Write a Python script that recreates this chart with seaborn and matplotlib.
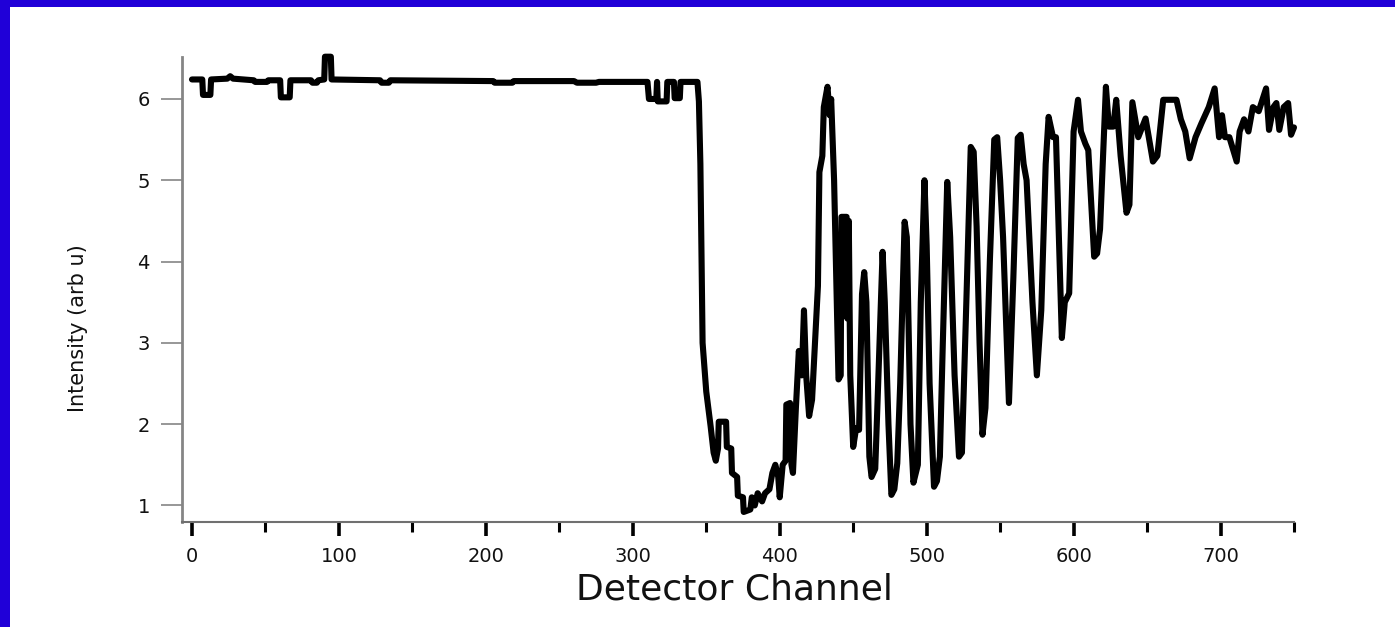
import matplotlib
matplotlib.use("Agg")
import matplotlib.pyplot as plt
import seaborn as sns
from matplotlib.patches import Rectangle
from matplotlib.ticker import FixedLocator

# ---- data ----
channel = [
    0, 7, 7.5, 12.5, 13, 24, 26, 28, 42, 43, 51, 52, 60, 60.5, 66.5, 67, 81, 82, 85, 86,
    90, 90.5, 94.5, 95, 128, 129, 134, 135, 205, 206, 218, 219, 260, 262, 275, 277,
    310, 311, 316, 316.5, 317, 323, 323.5, 328, 328.5, 332, 332.5, 344, 345, 346,
    347.5, 350, 353, 355, 356.5, 358, 358.5, 363.5, 364, 367, 367.5, 371, 371.5, 375,
    375.5, 380, 381, 383, 385, 388, 390, 393, 395, 397, 399, 400, 402, 404, 404.5, 407,
    408, 409, 411, 413, 415, 416.5, 418, 420, 422, 424, 426, 427, 429, 430, 432.5, 434,
    435, 437, 440, 441.5, 442, 445.5, 446, 447, 448, 450, 452, 454, 456, 457.5, 459,
    461, 462.5, 465, 467, 470, 471.5, 474, 476, 478, 480, 482, 485, 486.5, 489, 491,
    494, 496, 498.5, 500, 502, 505, 507, 509, 511, 514, 516, 519, 522, 524, 527, 530,
    532, 534, 536, 538, 540, 543, 546, 548, 550, 552, 556, 559, 562, 564, 566, 568,
    572, 575, 578, 581, 583, 586, 588, 592, 594, 597, 600, 603, 605, 608, 610, 614,
    616, 618, 622, 624, 627, 629, 632, 636, 638, 640, 644, 649, 654, 657, 661, 670,
    673, 676, 679, 683, 687, 692, 696, 699, 701, 703, 706, 711, 713, 716, 719, 722,
    726, 731, 733, 736, 738, 740, 743, 746, 748, 750,
]
intensity = [
    6.24, 6.24, 6.05, 6.05, 6.24, 6.25, 6.28, 6.25, 6.23, 6.21, 6.21, 6.23, 6.23, 6.02,
    6.02, 6.23, 6.23, 6.20, 6.20, 6.23, 6.24, 6.52, 6.52, 6.24, 6.23, 6.20, 6.20, 6.23,
    6.22, 6.20, 6.20, 6.22, 6.22, 6.20, 6.20, 6.21, 6.21, 6.00, 6.00, 6.21, 5.97, 5.97,
    6.21, 6.21, 6.01, 6.01, 6.21, 6.21, 5.97, 5.20, 3.00, 2.40, 1.97, 1.65, 1.55, 1.70,
    2.03, 2.03, 1.72, 1.70, 1.40, 1.35, 1.12, 1.10, 0.92, 0.95, 1.10, 1.00, 1.15, 1.05,
    1.15, 1.20, 1.40, 1.50, 1.35, 1.10, 1.50, 1.55, 2.24, 2.26, 1.50, 1.40, 2.20, 2.90,
    2.60, 3.40, 2.60, 2.10, 2.30, 3.00, 3.70, 5.10, 5.30, 5.90, 6.15, 5.80, 6.00, 5.00,
    2.55, 2.60, 4.55, 4.55, 3.30, 4.50, 2.60, 1.72, 1.95, 1.93, 3.60, 3.87, 3.50, 1.60,
    1.35, 1.45, 2.50, 4.12, 3.50, 2.00, 1.13, 1.20, 1.52, 2.50, 4.49, 4.30, 2.00, 1.28,
    1.50, 3.50, 5.00, 4.20, 2.50, 1.23, 1.30, 1.60, 3.00, 4.98, 4.30, 2.60, 1.60, 1.65,
    3.50, 5.41, 5.35, 4.43, 3.00, 1.87, 2.20, 4.00, 5.50, 5.53, 5.00, 4.30, 2.26, 3.80,
    5.52, 5.56, 5.20, 5.00, 3.50, 2.60, 3.40, 5.20, 5.78, 5.53, 5.53, 3.06, 3.50, 3.61,
    5.60, 5.99, 5.60, 5.45, 5.37, 4.06, 4.10, 4.40, 6.15, 5.66, 5.66, 5.99, 5.30, 4.60,
    4.70, 5.96, 5.53, 5.76, 5.23, 5.30, 5.99, 5.99, 5.75, 5.60, 5.27, 5.53, 5.70, 5.90,
    6.13, 5.53, 5.80, 5.53, 5.53, 5.23, 5.60, 5.75, 5.60, 5.90, 5.85, 6.13, 5.62, 5.90,
    5.95, 5.62, 5.90, 5.95, 5.56, 5.65,
]
x_major_ticks = [0, 100, 200, 300, 400, 500, 600, 700]
x_minor_ticks = [50, 150, 250, 350, 450, 550, 650, 750]
y_ticks = [1, 2, 3, 4, 5, 6]
x_label = "Detector Channel"
y_label = "Intensity (arb u)"

sns.set_theme(style="white")
plt.rcParams['font.family'] = ['DejaVu Sans']

W, H = 1395, 627
fig = plt.figure(figsize=(W / 100, H / 100), dpi=100)
fig.patch.set_facecolor("white")

# axes box in pixels: left 181.7, right 1294, top 56.7, bottom 521.7
ax = fig.add_axes([181.7 / W, (H - 521.7) / H, (1294 - 181.7) / W, (521.7 - 56.7) / H])
ax.set_facecolor("white")

sns.lineplot(x=channel, y=intensity, estimator=None, sort=False, color="black",
             linewidth=4.4, ax=ax)
for ln in ax.lines:
    ln.set_clip_on(False)
    ln.set_solid_joinstyle("round")

ax.set_xlim(-7, 750)
ax.set_ylim(0.80, 6.52)

for s in ("top", "right"):
    ax.spines[s].set_visible(False)
ax.spines["left"].set_color("#858585")
ax.spines["left"].set_linewidth(2.0)
ax.spines["bottom"].set_color("#707070")
ax.spines["bottom"].set_linewidth(1.5)

ax.xaxis.set_major_locator(FixedLocator(x_major_ticks))
ax.xaxis.set_minor_locator(FixedLocator(x_minor_ticks))
ax.yaxis.set_major_locator(FixedLocator(y_ticks))
ax.set_xticklabels([str(v) for v in x_major_ticks])
ax.set_yticklabels([str(v) for v in y_ticks])

ax.tick_params(axis="x", which="major", direction="out", bottom=True, length=10, width=2.6,
               color="black", pad=8, labelsize=14, labelcolor="#111111")
ax.tick_params(axis="x", which="minor", direction="out", bottom=True, length=7, width=2.2,
               color="black")
ax.tick_params(axis="y", which="major", direction="out", left=True, length=15, width=1.2,
               color="#858585", pad=8, labelsize=14, labelcolor="#111111")

ax.set_xlabel(x_label, fontsize=26, color="#111111")
ax.xaxis.set_label_coords(0.4966, -0.110)
ax.set_ylabel(y_label, fontsize=15, color="#111111",
              family=["DejaVu Sans Condensed", "DejaVu Sans"])
ax.yaxis.set_label_coords(-0.084, 0.4166)

# blue frame on the left and top edges
blue = "#2000D8"
fig.add_artist(Rectangle((0, 0), 10 / W, 1, transform=fig.transFigure,
                         facecolor=blue, edgecolor="none", zorder=10))
fig.add_artist(Rectangle((0, 1 - 7 / H), 1, 7 / H, transform=fig.transFigure,
                         facecolor=blue, edgecolor="none", zorder=10))

fig.savefig("out.png", dpi=100, facecolor="white")
